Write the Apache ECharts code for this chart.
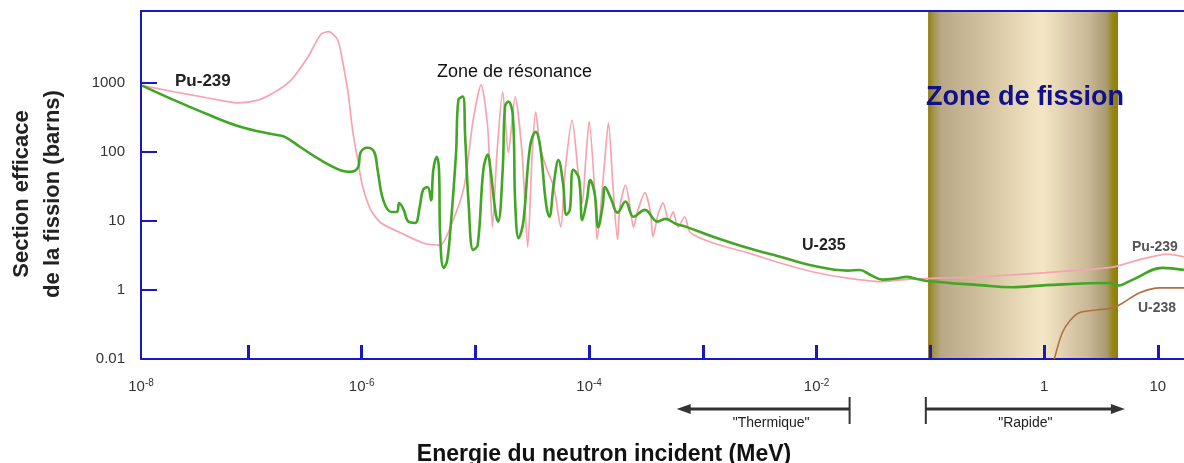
<!DOCTYPE html>
<html>
<head>
<meta charset="utf-8">
<script src="https://cdn.jsdelivr.net/npm/echarts@6/dist/echarts.min.js"></script>
<style>
  html, body { margin: 0; padding: 0; background: #fff; }
  #chart { width: 1184px; height: 463px; }
</style>
</head>
<body>
<div id="chart"></div>
<script>
// valeurs : [log10 E (MeV), log10 sigma (barns)]
const pu239 = [
  [-7.93, 2.96], [-7.65, 2.87], [-7.35, 2.78], [-7.09, 2.71], [-6.91, 2.75], [-6.77, 2.86],
  [-6.62, 3.04], [-6.47, 3.38], [-6.36, 3.70], [-6.29, 3.74], [-6.21, 3.62], [-6.17, 3.33],
  [-6.12, 2.86], [-6.08, 2.32], [-6.03, 1.84], [-5.99, 1.49], [-5.92, 1.16], [-5.83, 0.97],
  [-5.66, 0.83], [-5.46, 0.68], [-5.31, 0.65], [-5.22, 0.91], [-5.10, 1.49], [-5.02, 2.46],
  [-4.95, 2.97], [-4.89, 2.32], [-4.85, 0.91], [-4.81, 1.99], [-4.76, 2.87], [-4.71, 1.99],
  [-4.65, 2.80], [-4.59, 1.99], [-4.54, 0.62], [-4.50, 1.99], [-4.47, 2.58], [-4.43, 2.07],
  [-4.37, 1.74], [-4.31, 1.49], [-4.25, 0.91], [-4.21, 1.74], [-4.15, 2.46], [-4.09, 1.59],
  [-4.06, 1.26], [-4.03, 1.88], [-4.00, 2.44], [-3.95, 1.41], [-3.93, 0.73], [-3.87, 1.74],
  [-3.83, 2.42], [-3.79, 1.49], [-3.75, 0.73], [-3.73, 1.20], [-3.68, 1.52], [-3.64, 1.20],
  [-3.61, 0.91], [-3.57, 1.16], [-3.51, 1.41], [-3.46, 1.12], [-3.44, 0.77], [-3.39, 1.12],
  [-3.35, 1.26], [-3.30, 1.01], [-3.26, 1.13], [-3.22, 0.91], [-3.16, 1.06], [-3.11, 0.83],
  [-2.91, 0.68], [-2.61, 0.54], [-2.32, 0.39], [-2.03, 0.26], [-1.73, 0.17], [-1.44, 0.12],
  [-1.22, 0.15], [-0.94, 0.17], [-0.57, 0.19], [0.02, 0.25], [0.60, 0.33], [0.84, 0.44],
  [1.09, 0.52], [1.23, 0.48]
]
const u235 = [
  [-7.93, 2.96], [-7.65, 2.75], [-7.35, 2.54], [-7.06, 2.36], [-6.77, 2.25], [-6.68, 2.22],
  [-6.54, 2.07], [-6.36, 1.88], [-6.18, 1.73], [-6.10, 1.71], [-6.03, 1.78], [-6.01, 1.99],
  [-5.95, 2.06], [-5.89, 2.00], [-5.86, 1.74], [-5.81, 1.30], [-5.74, 1.13], [-5.69, 1.13],
  [-5.67, 1.26], [-5.63, 1.16], [-5.59, 0.99], [-5.53, 0.97], [-5.49, 1.20], [-5.46, 1.45],
  [-5.42, 1.49], [-5.39, 1.30], [-5.37, 1.74], [-5.34, 1.93], [-5.32, 1.74], [-5.31, 0.80],
  [-5.28, 0.32], [-5.25, 0.41], [-5.22, 0.87], [-5.17, 1.99], [-5.15, 2.75], [-5.11, 2.80],
  [-5.09, 2.22], [-5.06, 1.26], [-5.02, 0.58], [-4.98, 0.65], [-4.93, 1.74], [-4.89, 1.96],
  [-4.87, 1.78], [-4.82, 1.09], [-4.80, 0.99], [-4.76, 1.74], [-4.74, 2.65], [-4.71, 2.73],
  [-4.67, 2.51], [-4.65, 1.26], [-4.62, 0.75], [-4.58, 0.97], [-4.52, 2.07], [-4.47, 2.29],
  [-4.43, 2.07], [-4.38, 1.26], [-4.35, 1.06], [-4.31, 1.55], [-4.27, 1.88], [-4.23, 1.55],
  [-4.20, 1.09], [-4.17, 1.16], [-4.14, 1.74], [-4.09, 1.62], [-4.06, 1.01], [-4.02, 1.30],
  [-3.99, 1.59], [-3.95, 1.38], [-3.92, 0.91], [-3.88, 1.23], [-3.86, 1.49], [-3.81, 1.33],
  [-3.75, 1.12], [-3.68, 1.28], [-3.61, 1.06], [-3.51, 1.16], [-3.40, 0.99], [-3.33, 1.03],
  [-3.24, 0.96], [-3.14, 0.91], [-2.91, 0.77], [-2.61, 0.61], [-2.32, 0.48], [-2.03, 0.35],
  [-1.73, 0.28], [-1.62, 0.29], [-1.53, 0.22], [-1.42, 0.15], [-1.29, 0.17], [-1.21, 0.19],
  [-1.12, 0.16], [-1.03, 0.13], [-0.57, 0.07], [-0.28, 0.04], [0.02, 0.07], [0.58, 0.10],
  [0.64, 0.06], [0.78, 0.15], [1.04, 0.32], [1.23, 0.29]
]
const u238 = [
  [0.09, -1.0], [0.16, -0.62], [0.23, -0.44], [0.31, -0.33], [0.46, -0.29],
  [0.60, -0.26], [0.69, -0.19], [0.84, -0.04], [1.02, 0.03], [1.23, 0.03]
]

// axes (en decades)
const xMin = -7.94
const xMax = 1.23
const yMin = -1
const yMax = 4.04
const xTickDecades = [-7, -6, -5, -4, -3, -2, -1, 0, 1]
const xLabelDecades = [-8, -6, -4, -2, 0, 1]
const yTickDecades = [-1, 0, 1, 2, 3]
const yTickLabels = ['0.01', '1', '10', '100', '1000']

// zones (log10 MeV)
const fissionZone = [-1.02, 0.65]
const thermalRange = [-3.23, -1.71]
const fastRange = [-1.04, 0.71]

const FONT = 'Liberation Sans, Arial, sans-serif'
const BLUE = '#1818c8'

const chart = echarts.init(document.getElementById('chart'))

const zoneGradient = new echarts.graphic.LinearGradient(0, 0, 1, 0, [
  { offset: 0, color: '#8f7e0e' },
  { offset: 0.03, color: '#a39550' },
  { offset: 0.07, color: '#b9a886' },
  { offset: 0.3, color: '#d3c29f' },
  { offset: 0.6, color: '#f5e7c6' },
  { offset: 0.85, color: '#c8b694' },
  { offset: 0.94, color: '#a99a70' },
  { offset: 0.97, color: '#988716' },
  { offset: 1, color: '#8f7e0c' }
])

function xLabel(v) {
  const d = Math.round(v)
  if (d === 0) return '{b|1}'
  if (d === 1) return '{b|10}'
  return '{b|10}{s|' + d + '}'
}

chart.setOption({
  animation: false,
  grid: { left: 141, right: 0, top: 11, bottom: 104 },
  xAxis: [
    {
      type: 'value',
      z: 3,
      min: xMin,
      max: xMax,
      axisLine: { onZero: false, lineStyle: { color: BLUE, width: 2 } },
      axisTick: {
        inside: true,
        length: 14,
        customValues: xTickDecades,
        lineStyle: { color: BLUE, width: 3 }
      },
      axisLabel: {
        customValues: xLabelDecades.map(d => Math.max(d, xMin)),
        margin: 19,
        formatter: xLabel,
        rich: {
          b: { fontFamily: FONT, fontSize: 15, color: '#333', lineHeight: 18 },
          s: { fontFamily: FONT, fontSize: 10, color: '#333', lineHeight: 9, verticalAlign: 'top' }
        }
      },
      splitLine: { show: false }
    },
    {
      type: 'value',
      z: 3,
      position: 'top',
      min: xMin,
      max: xMax,
      axisLine: { onZero: false, lineStyle: { color: BLUE, width: 2 } },
      axisTick: { show: false },
      axisLabel: { show: false },
      splitLine: { show: false }
    }
  ],
  yAxis: {
    type: 'value',
    z: 3,
    min: yMin,
    max: yMax,
    axisLine: { show: true, onZero: false, lineStyle: { color: BLUE, width: 2 } },
    axisTick: {
      show: true,
      inside: true,
      length: 16,
      customValues: yTickDecades,
      lineStyle: { color: BLUE, width: 2 }
    },
    axisLabel: {
      customValues: yTickDecades,
      margin: 16,
      fontFamily: FONT,
      fontSize: 15,
      color: '#333',
      formatter: v => yTickLabels[yTickDecades.indexOf(Math.round(v))]
    },
    splitLine: { show: false }
  },
  series: [
    {
      name: 'zone',
      type: 'line',
      data: [],
      z: 1,
      markArea: {
        silent: true,
        itemStyle: { color: zoneGradient },
        data: [[{ xAxis: fissionZone[0], yAxis: yMin }, { xAxis: fissionZone[1], yAxis: yMax }]]
      }
    },
    {
      name: 'Pu-239',
      type: 'line',
      data: pu239,
      z: 4,
      symbol: 'none',
      smooth: 0.25,
      lineStyle: { color: '#f5a4b0', width: 1.7 }
    },
    {
      name: 'U-238',
      type: 'line',
      data: u238,
      z: 4,
      symbol: 'none',
      smooth: 0.3,
      lineStyle: { color: '#b0703f', width: 1.6 }
    },
    {
      name: 'U-235',
      type: 'line',
      data: u235,
      z: 5,
      symbol: 'none',
      smooth: 0.4,
      lineStyle: { color: '#41a526', width: 2.6 }
    }
  ]
})

// annotations placées d'après les axes
const px = v => chart.convertToPixel({ gridIndex: 0 }, [v, 0])[0]
const arrowY = 409

function arrow(fromX, toX, headAtLeft) {
  const head = headAtLeft ? fromX : toX
  const bar = headAtLeft ? toX : fromX
  const dir = headAtLeft ? 1 : -1
  return [
    {
      type: 'line',
      z: 100,
      shape: { x1: head + dir * 8, y1: arrowY, x2: bar, y2: arrowY },
      style: { stroke: '#333', lineWidth: 3 }
    },
    {
      type: 'line',
      z: 100,
      shape: { x1: bar, y1: arrowY - 12, x2: bar, y2: arrowY + 15 },
      style: { stroke: '#333', lineWidth: 2 }
    },
    {
      type: 'polygon',
      z: 100,
      shape: { points: [[head, arrowY], [head + dir * 14, arrowY - 5], [head + dir * 14, arrowY + 5]] },
      style: { fill: '#333' }
    }
  ]
}

function text(x, y, str, font, fill, align) {
  return {
    type: 'text',
    z: 100,
    x: x,
    y: y,
    style: {
      text: str,
      font: font,
      fill: fill,
      textAlign: align || 'left',
      textVerticalAlign: 'middle'
    }
  }
}

const zoneMid = (px(fissionZone[0]) + px(fissionZone[1])) / 2

chart.setOption({
  graphic: [
    text(175, 81, 'Pu-239', 'bold 17px ' + FONT, '#222'),
    text(437, 72, 'Zone de résonance', '18px ' + FONT, '#111'),
    text(802, 246, 'U-235', 'bold 16px ' + FONT, '#222'),
    text(1132, 247, 'Pu-239', 'bold 14px ' + FONT, '#555'),
    text(1138, 308, 'U-238', 'bold 14px ' + FONT, '#555'),
    text(zoneMid + 2, 98, 'Zone de fission', 'bold 27px ' + FONT, '#10108a', 'center'),
    text((px(thermalRange[0]) + px(thermalRange[1])) / 2 + 8, 423, '"Thermique"', '14px ' + FONT, '#222', 'center'),
    text((px(fastRange[0]) + px(fastRange[1])) / 2, 423, '"Rapide"', '14px ' + FONT, '#222', 'center'),
    text(604, 455, 'Energie du neutron incident (MeV)', 'bold 23px ' + FONT, '#111', 'center'),
    {
      type: 'text',
      z: 100,
      x: 37,
      y: 194,
      rotation: Math.PI / 2,
      style: {
        text: 'Section efficace\nde la fission (barns)',
        font: 'bold 22px ' + FONT,
        fill: '#222',
        lineHeight: 31,
        textAlign: 'center',
        textVerticalAlign: 'middle'
      }
    },
    ...arrow(px(thermalRange[0]), px(thermalRange[1]), true),
    ...arrow(px(fastRange[0]), px(fastRange[1]), false)
  ]
})
</script>
</body>
</html>
